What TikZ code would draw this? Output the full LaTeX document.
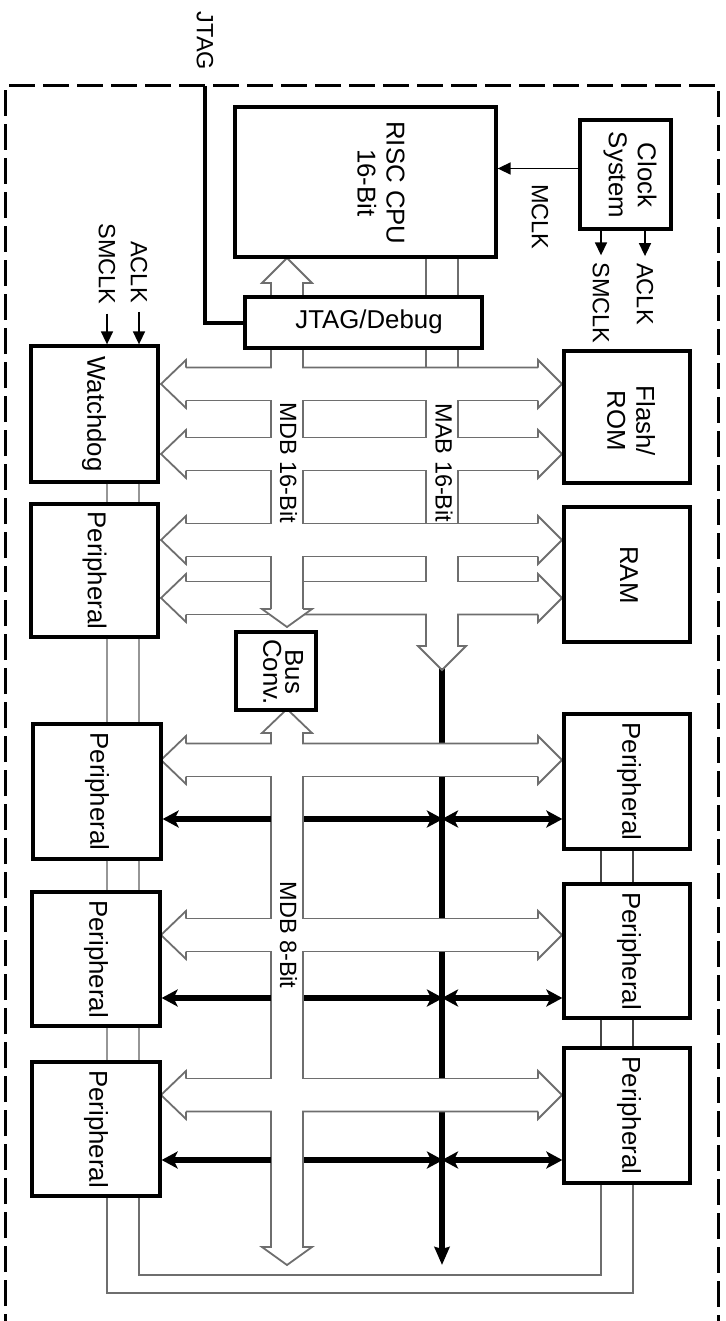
\documentclass[tikz,border=0pt]{standalone}
\usepackage{fontspec}
\setmainfont{Liberation Sans}
\usetikzlibrary{arrows.meta,calc}
\definecolor{busgray}{RGB}{110,110,110}
\definecolor{linkgray}{RGB}{150,150,150}
\definecolor{linkdark}{RGB}{70,70,70}
\newcommand\BusHeads[1]{%
  \draw[bus] (186,#1-16.5) -- (186,#1-24) -- (161,#1) -- (186,#1+24) -- (186,#1+16.5);
  \draw[bus] (538,#1-16.5) -- (538,#1-24) -- (562,#1) -- (538,#1+24) -- (538,#1+16.5);}
\begin{document}
\begin{tikzpicture}[x=1pt,y=-1pt,
  box/.style={draw=black, line width=3.3pt, fill=white, inner sep=0pt},
  txt/.style={font=\fontsize{25.8pt}{29pt}\selectfont, align=center, inner sep=0pt},
  vtxt/.style={txt, rotate=-90},
  lbl/.style={font=\fontsize{23.5pt}{28pt}\selectfont, inner sep=0pt, rotate=-90},
  bus/.style={draw=busgray, line width=1.8pt, line join=miter},
  blk/.style={line width=5.2pt, draw=black},
  clk/.style={line width=1.6pt, -{Triangle[length=13pt,width=12pt]}},
  tip/.tip={Stealth[length=16pt,width=17pt,inset=4pt]},
  link/.style={draw=linkgray, line width=1.8pt},
  linkd/.style={draw=linkdark, line width=1.8pt},
]
\useasboundingbox (0,0) rectangle (725,1321);
% border
\draw[line width=3pt, dash pattern=on 26pt off 8pt] (5,1340) -- (5,86) -- (718,86) -- (718,1340);

% ---------- black address line and data arrows (under hollow buses)
\draw[blk] (442,668) -- (442,744);
\draw[blk] (442,776) -- (442,919);
\draw[blk] (442,951) -- (442,1079);
\draw[blk, -{Stealth[length=18pt,width=15pt,inset=2pt]}] (442,1111) -- (442,1265);
\foreach \r in {819,998,1160}{
  \draw[blk, -tip] (303,\r) -- (443,\r);
}

% ---------- upper hollow buses
\BusHeads{384}\BusHeads{454}\BusHeads{540}\BusHeads{598}
\draw[bus] (186,367.5) -- (271,367.5) -- (271,283) -- (262,283) -- (287,258) -- (312,283) -- (303,283) -- (303,367.5) -- (538,367.5);
\draw[bus] (426,257) -- (426,367.5);
\draw[bus] (458,257) -- (458,367.5);
% A -> B
\draw[bus] (186,400.5) -- (271,400.5) -- (271,437.5) -- (186,437.5);
\draw[bus] (303,400.5) rectangle (426,437.5);
\draw[bus] (538,400.5) -- (458,400.5) -- (458,437.5) -- (538,437.5);
% B -> C
\draw[bus] (186,470.5) -- (271,470.5) -- (271,523.5) -- (186,523.5);
\draw[bus] (426,523.5) -- (426,470.5) -- (303,470.5) -- (303,523.5) -- (538,523.5);
\draw[bus] (538,470.5) -- (458,470.5) -- (458,523.5);
% C -> D
\draw[bus] (186,556.5) -- (271,556.5) -- (271,609);
\draw[bus] (186,581.5) -- (271,581.5);
\draw[bus] (303,556.5) rectangle (426,581.5);
\draw[bus] (303,581.5) -- (303,609);
\draw[bus] (538,556.5) -- (458,556.5) -- (458,581.5) -- (538,581.5);
\draw[bus] (271,609) -- (262,609) -- (287,627) -- (312,609) -- (303,609);
% D bottom and MAB arrow
\draw[bus] (186,614.5) -- (269.6,614.5);
\draw[bus] (304.4,614.5) -- (426,614.5) -- (426,646) -- (418,646) -- (442,670) -- (466,646) -- (458,646) -- (458,614.5) -- (538,614.5);

% ---------- lower hollow buses
\BusHeads{760}\BusHeads{935}\BusHeads{1095}
\draw[bus] (186,743.5) -- (271,743.5) -- (271,733) -- (262,733) -- (287,709) -- (312,733) -- (303,733) -- (303,743.5) -- (538,743.5);
\draw[bus] (186,776.5) -- (271,776.5) -- (271,918.5) -- (186,918.5);
\draw[bus] (538,776.5) -- (303,776.5) -- (303,918.5) -- (538,918.5);
\draw[bus] (186,951.5) -- (271,951.5) -- (271,1078.5) -- (186,1078.5);
\draw[bus] (538,951.5) -- (303,951.5) -- (303,1078.5) -- (538,1078.5);
\draw[bus] (186,1111.5) -- (271,1111.5) -- (271,1247) -- (262,1247) -- (287,1265) -- (312,1247) -- (303,1247) -- (303,1111.5) -- (538,1111.5);

% ---------- boxes
\node[box, minimum width=261pt, minimum height=150pt] (cpu) at (365.5,182) {};
\node[box, minimum width=91pt, minimum height=109pt] (clock) at (625.5,174.5) {};
\node[box, minimum width=237pt, minimum height=51pt] (jtag) at (363.5,322.5) {};
\node[box, minimum width=127pt, minimum height=136pt] (wdt) at (94.5,414) {};
\node[box, minimum width=127pt, minimum height=133pt] (lp1) at (94.5,570.5) {};
\node[box, minimum width=126pt, minimum height=132pt] (flash) at (627,417) {};
\node[box, minimum width=126pt, minimum height=135pt] (ram) at (627,574.5) {};
\node[box, minimum width=80pt, minimum height=78pt] (bconv) at (276,671) {};
\node[box, minimum width=128pt, minimum height=135pt] (lp2) at (97,791.5) {};
\node[box, minimum width=128pt, minimum height=134pt] (lp3) at (96,959) {};
\node[box, minimum width=128pt, minimum height=134pt] (lp4) at (96,1129) {};
\node[box, minimum width=126pt, minimum height=135pt] (rp1) at (627,781.5) {};
\node[box, minimum width=126pt, minimum height=134pt] (rp2) at (627,951) {};
\node[box, minimum width=126pt, minimum height=135pt] (rp3) at (627,1115.5) {};

% box texts
\node[vtxt] (cpuT) at (381,183) {RISC CPU\\16-Bit};
\node[vtxt] (clockT) at (630,175) {Clock\\System};
\node[txt] (jtagT) at (369,322) {JTAG/Debug};
\node[vtxt] (wdtT) at (94,414) {Watchdog};
\node[vtxt] (lp1T) at (lp1) {Peripheral};
\node[vtxt] (flashT) at (631,421) {Flash/\\ROM};
\node[vtxt] (ramT) at (629,575) {RAM};
\node[vtxt, font=\fontsize{25.8pt}{22pt}\selectfont] (bconvT) at (283,672) {Bus\\Conv.};
\node[vtxt] (lp2T) at (lp2) {Peripheral};
\node[vtxt] (lp3T) at (lp3) {Peripheral};
\node[vtxt] (lp4T) at (lp4) {Peripheral};
\node[vtxt] (rp1T) at (629,781.5) {Peripheral};
\node[vtxt] (rp2T) at (629,951) {Peripheral};
\node[vtxt] (rp3T) at (629,1115.5) {Peripheral};

% bus labels
\node[lbl] (mdb16) at (288.5,463) {MDB 16-Bit};
\node[lbl] (mab16) at (444,463) {MAB 16-Bit};
\node[lbl] (mdb8) at (288.5,935) {MDB 8-Bit};

% clock labels
\node[lbl] (jtagL) at (205,41) {JTAG};
\node[lbl] (mclkL) at (540,217) {MCLK};
\node[lbl] (aclkC) at (645,294) {ACLK};
\node[lbl] (smclkC) at (601,303) {SMCLK};
\node[lbl] (smclkW) at (107,264) {SMCLK};
\node[lbl] (aclkW) at (139,272) {ACLK};

% clock arrows
\draw[clk] ($(clock.west)+(0,-6)$) -- ($(clock.west -| cpu.east)+(0,-6)$);
\draw[clk] (clock.south -| aclkC) -- ([yshift=7pt]aclkC.west);
\draw[clk] (clock.south -| smclkC) -- ([yshift=7pt]smclkC.west);
\draw[clk] ([yshift=-9pt]smclkW.east) -- (smclkW.east |- wdt.north);
\draw[clk] ([yshift=-9pt]aclkW.east) -- (aclkW.east |- wdt.north);

% JTAG line
\coordinate (jtagIn) at (205,86);
\draw[line width=4pt] (jtagIn) |- (jtag.west);

% black data arrows to peripherals
\foreach \l/\r/\y in {lp2/rp1/819, lp3/rp2/998, lp4/rp3/1160}{
  \draw[blk, -tip] (271,\y) -- (\l.east |- 0,\y);
  \draw[blk, tip-tip] (442,\y) -- (\r.west |- 0,\y);
}

% peripheral links
\coordinate (cA) at (107,0);
\coordinate (cB) at (139,0);
\coordinate (cC) at (601,0);
\coordinate (cD) at (633,0);
\foreach \u/\d in {wdt/lp1, lp1/lp2, lp2/lp3, lp3/lp4}{
  \draw[link] (\u.south -| cA) -- (\d.north -| cA);
  \draw[link] (\u.south -| cB) -- (\d.north -| cB);
}
\foreach \u/\d in {rp1/rp2, rp2/rp3}{
  \draw[linkd] (\u.south -| cC) -- (\d.north -| cC);
  \draw[linkd] (\u.south -| cD) -- (\d.north -| cD);
}
\draw[link, draw=busgray] (lp4.south -| cB) -- (cB |- 0,1275) -| (rp3.south -| cC);
\draw[link, draw=busgray] (lp4.south -| cA) -- (cA |- 0,1293) -| (rp3.south -| cD);
\end{tikzpicture}
\end{document}
